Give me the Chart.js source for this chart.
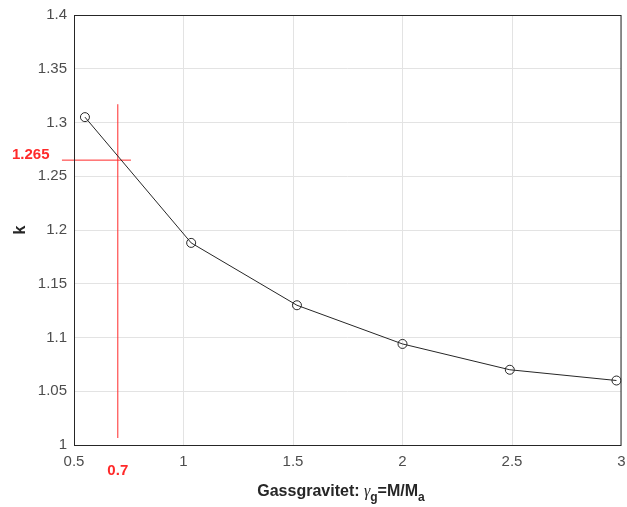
<!DOCTYPE html>
<html>
<head>
<meta charset="utf-8">
<script src="https://cdn.jsdelivr.net/npm/chart.js@4/dist/chart.umd.min.js"></script>
<style>
  html, body { margin: 0; padding: 0; background: #fff; }
  #wrap { width: 627px; height: 507px; }
</style>
</head>
<body>
<div id="wrap"><canvas id="chart" width="627" height="507"></canvas></div>
<script>
// data
const gravities = [0.55, 1.035, 1.518, 2.0, 2.49, 2.977];
const kValues = [1.305, 1.188, 1.130, 1.094, 1.070, 1.060];

// red read-off guide at gamma_g = 0.7
const guideX = 0.7;
const guideK = 1.265;
const guideVertical = [{ x: 0.7, y: 1.0065 }, { x: 0.7, y: 1.317 }];
const guideHorizontal = [{ x: 0.445, y: 1.265 }, { x: 0.76, y: 1.265 }];

const xTicks = [0.5, 1, 1.5, 2, 2.5, 3];
const yTicks = [1, 1.05, 1.1, 1.15, 1.2, 1.25, 1.3, 1.35, 1.4];

const tickFont = { family: 'Liberation Sans', size: 15 };
const tickColor = '#4d4d4d';
const red = '#ff2a2a';

// box round the axes + red labels + x title with subscripts
const extrasPlugin = {
    id: 'extras',
    afterDraw(chart) {
        const { ctx, chartArea: a, scales } = chart;
        ctx.save();
        ctx.strokeStyle = '#262626';
        ctx.lineWidth = 1;
        ctx.strokeRect(a.left + 0.5, a.top + 0.5, a.right - a.left - 1, a.bottom - a.top);

        ctx.fillStyle = red;
        ctx.font = 'bold 15px "Liberation Sans"';
        ctx.textBaseline = 'middle';
        ctx.textAlign = 'left';
        ctx.fillText(String(guideK), 12, scales.y.getPixelForValue(guideK) - 5);
        ctx.textAlign = 'center';
        ctx.fillText(String(guideX), scales.x.getPixelForValue(guideX), 471);

        // x title: "Gassgravitet: γg=M/Ma"
        const parts = [
            { t: 'Gassgravitet: ', f: 'bold 16px "Liberation Sans"', dy: 0 },
            { t: '\u03b3', f: 'italic 16px "Liberation Serif"', dy: 0 },
            { t: 'g', f: 'bold 12px "Liberation Sans"', dy: 6 },
            { t: '=M/M', f: 'bold 16px "Liberation Sans"', dy: 0 },
            { t: 'a', f: 'bold 12px "Liberation Sans"', dy: 6 }
        ];
        let total = 0;
        parts.forEach(p => { ctx.font = p.f; p.w = ctx.measureText(p.t).width; total += p.w; });
        let x = 341 - total / 2;
        ctx.fillStyle = '#262626';
        ctx.textAlign = 'left';
        ctx.textBaseline = 'middle';
        parts.forEach(p => {
            ctx.font = p.f;
            ctx.fillText(p.t, x, 492 + p.dy);
            x += p.w;
        });
        ctx.restore();
    }
};

new Chart(document.getElementById('chart'), {
    type: 'scatter',
    data: {
        datasets: [
            {
                label: 'k',
                data: gravities.map((g, i) => ({ x: g, y: kValues[i] })),
                showLine: true,
                borderColor: '#262626',
                borderWidth: 1,
                pointStyle: 'circle',
                pointRadius: 4.5,
                pointBackgroundColor: 'rgba(0,0,0,0)',
                pointBorderColor: '#262626',
                pointBorderWidth: 1
            },
            {
                label: 'guide v',
                data: guideVertical,
                showLine: true,
                borderColor: red,
                borderWidth: 1,
                pointRadius: 0,
                clip: false
            },
            {
                label: 'guide h',
                data: guideHorizontal,
                showLine: true,
                borderColor: red,
                borderWidth: 1,
                pointRadius: 0,
                clip: false
            }
        ]
    },
    options: {
        responsive: false,
        animation: false,
        layout: { padding: { top: 15, right: 5, left: 0, bottom: 0 } },
        plugins: { legend: { display: false }, tooltip: { enabled: false } },
        scales: {
            x: {
                type: 'linear',
                min: 0.5,
                max: 3,
                afterBuildTicks: s => { s.ticks = xTicks.map(v => ({ value: v })); },
                afterFit: s => { s.height = 62; s.paddingLeft = 0; s.paddingRight = 0; },
                grid: { color: '#e3e3e3', drawTicks: false },
                border: { display: false },
                ticks: {
                    font: tickFont,
                    color: tickColor,
                    padding: 8,
                    maxRotation: 0,
                    callback: v => String(v)
                }
            },
            y: {
                type: 'linear',
                min: 1,
                max: 1.4,
                afterBuildTicks: s => { s.ticks = yTicks.map(v => ({ value: v })); },
                afterFit: s => { s.width = 74; s.paddingTop = 0; s.paddingBottom = 0; },
                grid: { color: '#e3e3e3', drawTicks: false },
                border: { display: false },
                title: {
                    display: true,
                    text: 'k',
                    font: { family: 'Liberation Sans', size: 16, weight: 'bold' },
                    color: '#262626',
                    padding: { top: 11, bottom: 4 }
                },
                ticks: {
                    font: tickFont,
                    color: tickColor,
                    padding: 7,
                    callback: v => String(Math.round(v * 100) / 100)
                }
            }
        }
    },
    plugins: [extrasPlugin]
});
</script>
</body>
</html>
